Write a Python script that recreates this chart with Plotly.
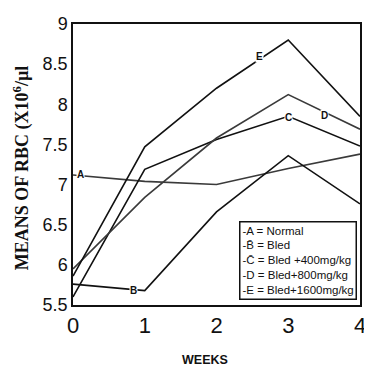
import plotly.graph_objects as go

weeks = [0, 1, 2, 3, 4]
normal_a = [7.12, 7.04, 7.0, 7.2, 7.38]
bled_b = [5.76, 5.68, 6.66, 7.36, 6.76]
bled400_c = [5.6, 7.19, 7.56, 7.85, 7.48]
bled800_d = [5.95, 6.84, 7.58, 8.12, 7.69]
bled1600_e = [5.86, 7.47, 8.2, 8.8, 7.85]

series = [
    ("A", normal_a, "#3a3a3a"),
    ("B", bled_b, "#111111"),
    ("C", bled400_c, "#111111"),
    ("D", bled800_d, "#3a3a3a"),
    ("E", bled1600_e, "#111111"),
]

# inline letter labels: (letter, x, y)
inline_labels = [("A", 0.1, 7.12), ("B", 0.85, 5.68), ("E", 2.6, 8.6), ("C", 3.0, 7.84), ("D", 3.5, 7.86)]

legend_lines = ["-A = Normal", "-B\u0304 = Bled", "-C\u0304 = Bled +400mg/kg",
                "-D = Bled+800mg/kg", "-E = Bled+1600mg/kg"]

fig = go.Figure()
for name, vals, col in series:
    fig.add_trace(go.Scatter(x=weeks, y=vals, mode="lines", name=name,
                             line=dict(color=col, width=1.6), showlegend=False))

for t, x, y in inline_labels:
    fig.add_annotation(x=x, y=y, text="<b>" + t + "</b>", showarrow=False,
                       font=dict(family="Liberation Sans", size=10, color="#111"),
                       bgcolor="white", borderpad=0)

fig.add_annotation(x=0.99, y=0.017, xref="paper", yref="paper", xanchor="right", yanchor="bottom",
                   text="<br>".join(legend_lines), align="left", showarrow=False,
                   font=dict(family="Liberation Sans", size=11.5, color="#111"),
                   bordercolor="#111", borderwidth=1.5, borderpad=2, bgcolor="white")

fig.add_annotation(x=-0.178, y=0.49, xref="paper", yref="paper", textangle=-90,
                   xanchor="center", yanchor="middle",
                   text="<b>MEANS OF RBC (X10<sup>6</sup>/µl</b>", showarrow=False,
                   font=dict(family="Liberation Serif", size=18, color="#111"))

fig.add_annotation(x=0.46, y=-0.195, xref="paper", yref="paper", xanchor="center", yanchor="middle",
                   text="<b>WEEKS</b>", showarrow=False,
                   font=dict(family="Liberation Sans Narrow, Liberation Sans", size=12.5, color="#111"))

fig.update_xaxes(range=[0, 4], tickvals=weeks, ticktext=[str(w) for w in weeks],
                 showgrid=False, zeroline=False, showline=True, linecolor="#111", linewidth=1.5,
                 mirror=True, ticks="", ticklabeloverflow="allow",
                 tickfont=dict(family="Liberation Sans", size=22, color="#111"))
fig.update_yaxes(range=[5.5, 9], tickvals=[5.5, 6, 6.5, 7, 7.5, 8, 8.5, 9],
                 ticktext=["5.5", "6", "6.5", "7", "7.5", "8", "8.5", "9"],
                 showgrid=False, zeroline=False, showline=True, linecolor="#111", linewidth=1.5,
                 mirror=True, ticks="", ticklabeloverflow="allow",
                 tickfont=dict(family="Liberation Sans", size=18, color="#111"))

# page body has an 8px margin, so the figure is sized to end at the window edge
fig.update_layout(width=364, height=361, margin=dict(l=65, r=6, t=9, b=64),
                  plot_bgcolor="white", paper_bgcolor="white")

fig.write_html("out.html")
